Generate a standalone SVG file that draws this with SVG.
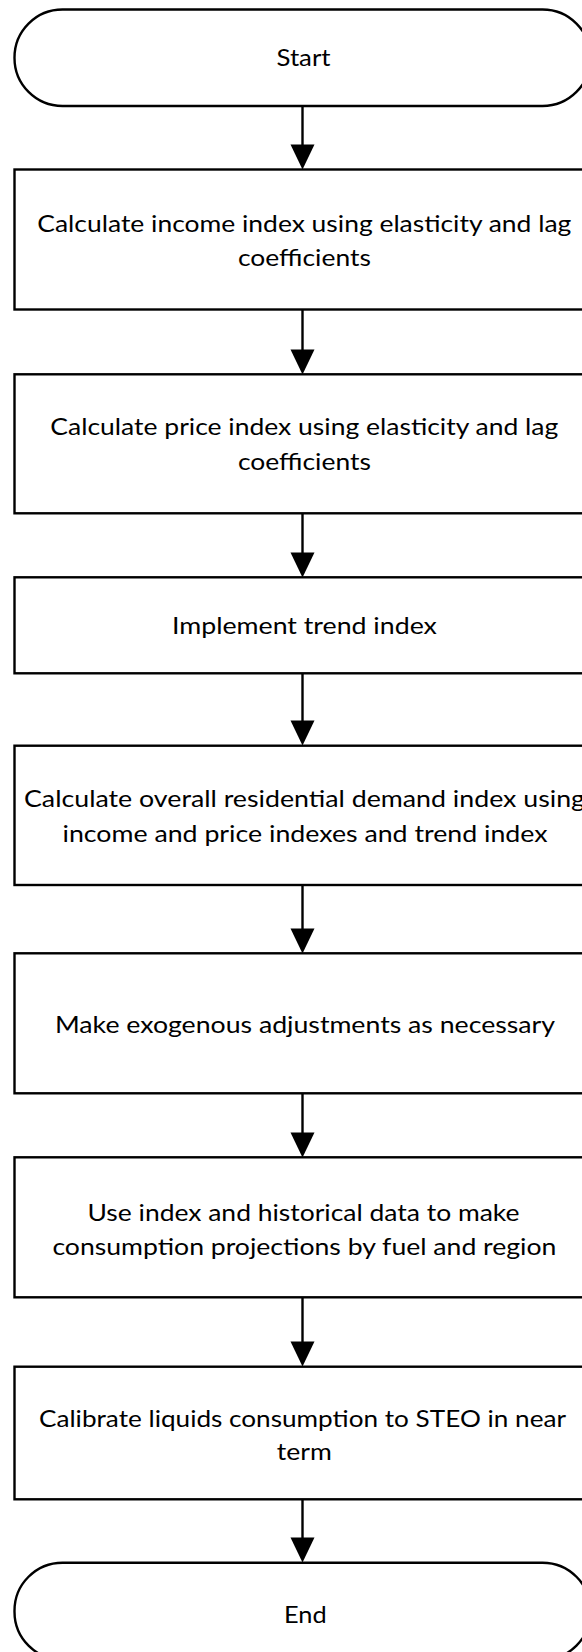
<svg xmlns="http://www.w3.org/2000/svg" width="582" height="1652" viewBox="0 0 582 1652">
  <defs>
    <style>
      .shape { fill: #fff; stroke: #000; stroke-width: 2.4; }
      .edge { stroke: #000; stroke-width: 2.4; fill: none; }
      .head { fill: #000; stroke: none; }
      .label { font-family: "Lato", "Liberation Sans", sans-serif; font-size: 24px; fill: #000; text-anchor: middle; }
    </style>
  </defs>
  <rect width="582" height="1652" fill="#fff"/>

  <!-- connectors: vertical line plus solid triangular head ending on the next shape -->
  <g id="connectors">
    <line class="edge" x1="302.5" y1="106" x2="302.5" y2="145"/>
    <polygon class="head" points="290.5,144.5 314.5,144.5 302.5,169.5"/>
    <line class="edge" x1="302.5" y1="309.5" x2="302.5" y2="350"/>
    <polygon class="head" points="290.5,349.5 314.5,349.5 302.5,374.5"/>
    <line class="edge" x1="302.5" y1="513.5" x2="302.5" y2="553"/>
    <polygon class="head" points="290.5,552.5 314.5,552.5 302.5,577.5"/>
    <line class="edge" x1="302.5" y1="673.5" x2="302.5" y2="721"/>
    <polygon class="head" points="290.5,720.5 314.5,720.5 302.5,745.5"/>
    <line class="edge" x1="302.5" y1="885" x2="302.5" y2="929"/>
    <polygon class="head" points="290.5,928.5 314.5,928.5 302.5,953.5"/>
    <line class="edge" x1="302.5" y1="1093.5" x2="302.5" y2="1133"/>
    <polygon class="head" points="290.5,1132.5 314.5,1132.5 302.5,1157.5"/>
    <line class="edge" x1="302.5" y1="1297.5" x2="302.5" y2="1342"/>
    <polygon class="head" points="290.5,1341.5 314.5,1341.5 302.5,1366.5"/>
    <line class="edge" x1="302.5" y1="1499.5" x2="302.5" y2="1538"/>
    <polygon class="head" points="290.5,1537.5 314.5,1537.5 302.5,1562.5"/>
  </g>

  <g id="start">
    <rect class="shape" x="14.5" y="9.5" width="576" height="96.5" rx="48" ry="48"/>
    <text class="label" x="303.5" y="66" textLength="54" lengthAdjust="spacingAndGlyphs">Start</text>
  </g>

  <g id="income-index">
    <rect class="shape" x="14.5" y="169.5" width="576" height="140"/>
    <text class="label" x="304.3" y="231.7" textLength="534" lengthAdjust="spacingAndGlyphs">Calculate income index using elasticity and lag</text>
    <text class="label" x="304.4" y="265.7" textLength="133" lengthAdjust="spacingAndGlyphs">coefficients</text>
  </g>

  <g id="price-index">
    <rect class="shape" x="14.5" y="374.3" width="576" height="139"/>
    <text class="label" x="304.3" y="435" textLength="508" lengthAdjust="spacingAndGlyphs">Calculate price index using elasticity and lag</text>
    <text class="label" x="304.4" y="470" textLength="133" lengthAdjust="spacingAndGlyphs">coefficients</text>
  </g>

  <g id="trend-index">
    <rect class="shape" x="14.5" y="577.3" width="576" height="96"/>
    <text class="label" x="304.4" y="634.3" textLength="265" lengthAdjust="spacingAndGlyphs">Implement trend index</text>
  </g>

  <g id="demand-index">
    <rect class="shape" x="14.5" y="745.7" width="576" height="139.3"/>
    <text class="label" x="304.5" y="807.3" textLength="561" lengthAdjust="spacingAndGlyphs">Calculate overall residential demand index using</text>
    <text class="label" x="305" y="841.7" textLength="485" lengthAdjust="spacingAndGlyphs">income and price indexes and trend index</text>
  </g>

  <g id="exogenous-adjustments">
    <rect class="shape" x="14.5" y="953.3" width="576" height="140"/>
    <text class="label" x="305" y="1033.3" textLength="500" lengthAdjust="spacingAndGlyphs">Make exogenous adjustments as necessary</text>
  </g>

  <g id="projections">
    <rect class="shape" x="14.5" y="1157.3" width="576" height="140"/>
    <text class="label" x="303.5" y="1220.7" textLength="432" lengthAdjust="spacingAndGlyphs">Use index and historical data to make</text>
    <text class="label" x="304.4" y="1255" textLength="504" lengthAdjust="spacingAndGlyphs">consumption projections by fuel and region</text>
  </g>

  <g id="calibrate">
    <rect class="shape" x="14.5" y="1366.7" width="576" height="132.6"/>
    <text class="label" x="302.5" y="1426.7" textLength="527" lengthAdjust="spacingAndGlyphs">Calibrate liquids consumption to STEO in near</text>
    <text class="label" x="304.3" y="1460" textLength="55" lengthAdjust="spacingAndGlyphs">term</text>
  </g>

  <g id="end">
    <rect class="shape" x="14.5" y="1562.7" width="576" height="97" rx="48" ry="48"/>
    <text class="label" x="305.3" y="1623.3" textLength="42.6" lengthAdjust="spacingAndGlyphs">End</text>
  </g>
</svg>
